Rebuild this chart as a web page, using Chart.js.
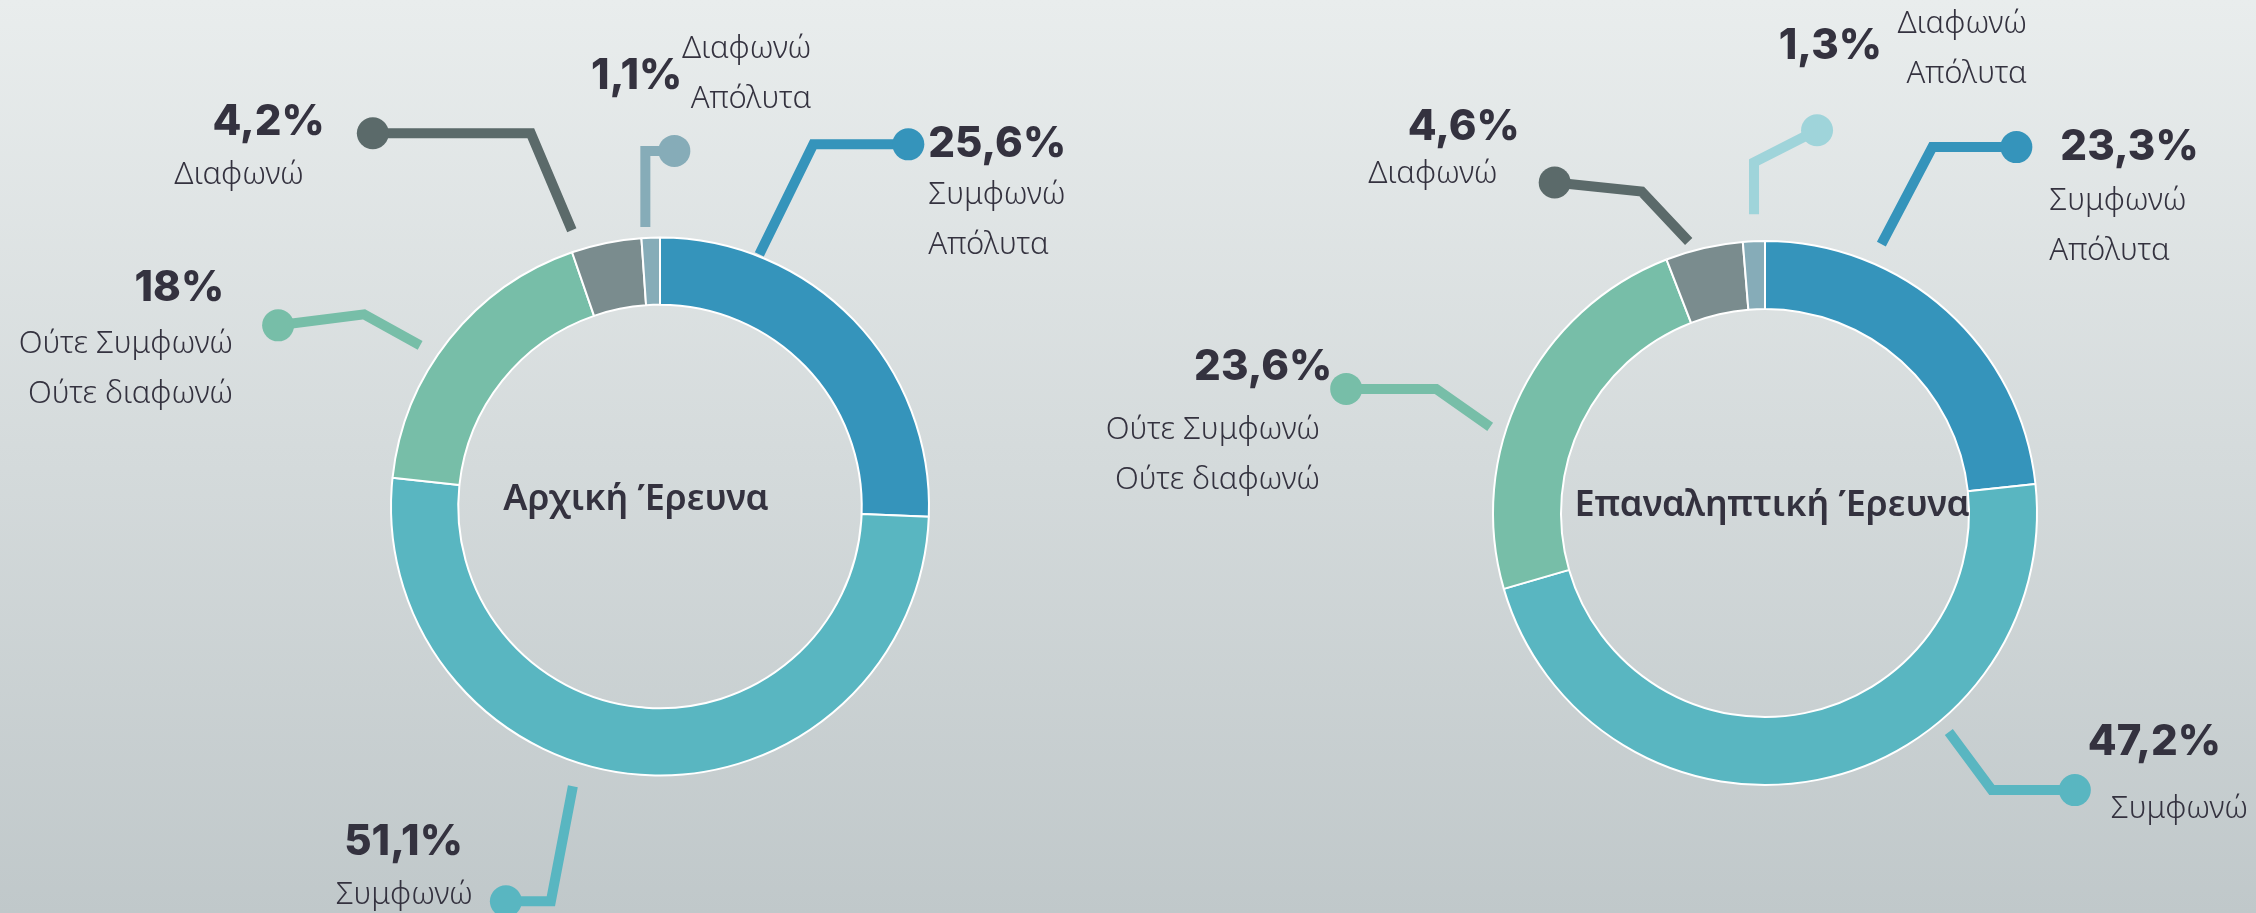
<!DOCTYPE html>
<html>
<head>
<meta charset="utf-8">
<script src="https://cdn.jsdelivr.net/npm/chart.js@4"></script>
<style>
    html, body { margin: 0; padding: 0; }
    body {
        width: 2256px;
        height: 913px;
        overflow: hidden;
        position: relative;
        background: linear-gradient(to bottom, #e9eded, #c0c8ca);
    }
    .panel { position: absolute; top: 0; height: 913px; }
</style>
</head>
<body>
<div class="panel" style="left:0;width:1128px"><canvas id="chartInitial" width="1128" height="913"></canvas></div>
<div class="panel" style="left:1000px;width:1256px"><canvas id="chartRepeat" width="1256" height="913"></canvas></div>

<script>
// Categories (answer options) and the label lines shown next to each callout
const categories = ['Συμφωνώ Απόλυτα', 'Συμφωνώ', 'Ούτε Συμφωνώ Ούτε διαφωνώ', 'Διαφωνώ', 'Διαφωνώ Απόλυτα'];
const labelLines = [['Συμφωνώ', 'Απόλυτα'], ['Συμφωνώ'], ['Ούτε Συμφωνώ', 'Ούτε διαφωνώ'], ['Διαφωνώ'], ['Διαφωνώ', 'Απόλυτα']];

// Percentages per survey
const initialValues = [25.6, 51.1, 18, 4.2, 1.1];
const repeatValues = [23.3, 47.2, 23.6, 4.6, 1.3];

const surveyTitles = ['Αρχική Έρευνα', 'Επαναληπτική Έρευνα'];

const segmentColors = ['#3594bb', '#59b6c1', '#77bea8', '#7a8c8e', '#86acb8'];
const textColor = '#34323f';

function fmt(v) {
    return String(v).replace('.', ',') + '%';
}

// callout layout: angle on the ring (deg from top), gap past the ring, line path, text offsets from the dot
const initialCallouts = [
    { angle: 21.5, gap: 2, color: '#3594bb', path: [[54, -110], [95, 0]], value: [20, 0, 'left'], label: [20, 51, 'left'] },
    { angle: 197.3, gap: 24, color: '#59b6c1', path: [[-22, 115], [-45, 0]], value: [-43, -59, 'right'], label: [-33, -6, 'right'] },
    { angle: 303.9, gap: 20, color: '#77bea8', path: [[-56, -31], [-86, 11]], value: [-54, -37, 'right'], label: [-45, 19, 'right'] },
    { angle: 342.3, gap: 21, color: '#5b6a6a', path: [[-41, -97], [-158, 0]], value: [-48, -11, 'right'], label: [-69, 42, 'right'] },
    { angle: 357, gap: 11, color: '#86acb8', path: [[0, -76], [29, 0]], value: [8, -75, 'right'], label: [137, -102, 'right'] }
];
const repeatCallouts = [
    { angle: 23.4, gap: 21, color: '#3594bb', path: [[51, -97], [84, 0]], value: [44, 0, 'left'], label: [33, 54, 'left'] },
    { angle: 140, gap: 14, color: '#59b6c1', path: [[43, 58], [83, 0]], value: [13, -48, 'left'], label: [36, 19, 'left'] },
    { angle: 287.4, gap: 16, color: '#77bea8', path: [[-54, -38], [-90, 0]], value: [-14, -22, 'right'], label: [-26, 41, 'right'] },
    { angle: 344.3, gap: 10, color: '#5b6a6a', path: [[-47, -50], [-87, -9]], value: [-35, -55, 'right'], label: [-57, -8, 'right'] },
    { angle: 357.9, gap: 27, color: '#9fd4da', path: [[0, -52], [63, -32]], value: [65, -84, 'right'], label: [210, -106, 'right'] }
];

const calloutPlugin = {
    id: 'callouts',
    afterDraw(chart, args, opts) {
        const ctx = chart.ctx;
        const meta = chart.getDatasetMeta(0);
        const values = chart.data.datasets[0].data;
        let cx = 0, cy = 0;

        opts.items.forEach((c, i) => {
            const arc = meta.data[i];
            const { x, y, outerRadius } = arc.getProps(['x', 'y', 'outerRadius'], true);
            cx = x; cy = y;
            const a = (c.angle - 90) * Math.PI / 180;
            const r = outerRadius + c.gap;
            let px = x + r * Math.cos(a);
            let py = y + r * Math.sin(a);

            ctx.save();
            ctx.strokeStyle = c.color;
            ctx.lineWidth = 10;
            ctx.lineJoin = 'miter';
            ctx.lineCap = 'butt';
            ctx.beginPath();
            ctx.moveTo(px, py);
            c.path.forEach(([dx, dy]) => {
                px += dx;
                py += dy;
                ctx.lineTo(px, py);
            });
            ctx.stroke();

            ctx.fillStyle = c.color;
            ctx.beginPath();
            ctx.arc(px, py, 16, 0, Math.PI * 2);
            ctx.fill();

            ctx.fillStyle = textColor;
            ctx.textBaseline = 'middle';
            ctx.font = '800 42px Inter';
            ctx.textAlign = c.value[2];
            ctx.fillText(fmt(values[i]), px + c.value[0], py + c.value[1]);

            ctx.font = '300 31px "Noto Sans"';
            ctx.textAlign = c.label[2];
            labelLines[i].forEach((t, k) => {
                ctx.fillText(t, px + c.label[0], py + c.label[1] + k * 50);
            });
            ctx.restore();
        });

        // survey title inside the ring
        ctx.save();
        ctx.fillStyle = textColor;
        ctx.font = '600 36px "Noto Sans"';
        ctx.textAlign = 'center';
        ctx.textBaseline = 'alphabetic';
        ctx.fillText(opts.title, cx + opts.titleOffset[0], cy + opts.titleOffset[1]);
        ctx.restore();
    }
};

function makeDonut(canvasId, values, callouts, title, padding, titleOffset) {
    return new Chart(document.getElementById(canvasId), {
        type: 'doughnut',
        data: {
            labels: categories,
            datasets: [{
                data: values,
                backgroundColor: segmentColors,
                borderColor: '#ffffff',
                borderWidth: 2
            }]
        },
        options: {
            responsive: false,
            animation: false,
            cutout: '75%',
            layout: { padding: padding },
            plugins: {
                legend: { display: false },
                tooltip: { enabled: false },
                callouts: { items: callouts, title: title, titleOffset: titleOffset }
            }
        },
        plugins: [calloutPlugin]
    });
}

makeDonut('chartInitial', initialValues, initialCallouts, surveyTitles[0],
    { left: 390, right: 198, top: 236, bottom: 136 }, [-24, 3]);
makeDonut('chartRepeat', repeatValues, repeatCallouts, surveyTitles[1],
    { left: 492, right: 218, top: 240, bottom: 127 }, [7, 3]);
</script>
</body>
</html>
